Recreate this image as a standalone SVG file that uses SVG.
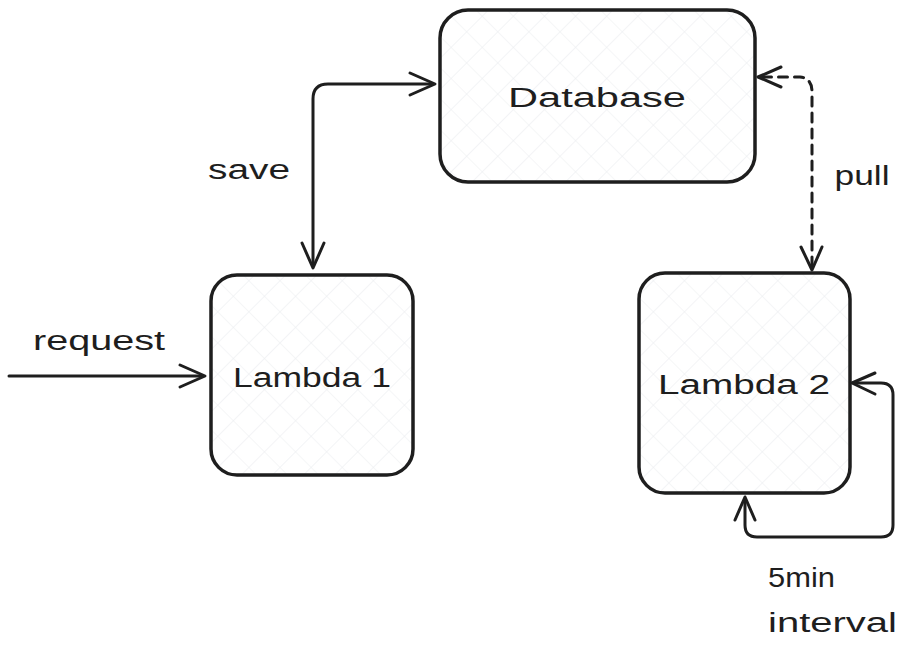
<svg xmlns="http://www.w3.org/2000/svg" width="908" height="655" viewBox="0 0 908 655">
  <style>
    .box { fill: url(#hatch); stroke: #1e1e1e; stroke-width: 3.5; }
    .conn { fill: none; stroke: #1e1e1e; stroke-width: 3; stroke-linecap: round; stroke-linejoin: round; }
    .dash { stroke-dasharray: 9 7; }
    .head { fill: none; stroke: #1e1e1e; stroke-width: 3; stroke-linecap: round; stroke-linejoin: round; }
    .t { font-family: "Liberation Sans", "DejaVu Sans", sans-serif; font-size: 27px; fill: #1e1e1e; }
  </style>
  <defs>
    <pattern id="hatch" width="22" height="22" patternUnits="userSpaceOnUse" patternTransform="rotate(45)">
      <rect width="22" height="22" fill="#ffffff"/>
      <path d="M0 0 V22 M0 0 H22" stroke="#eceef0" stroke-width="1.2"/>
    </pattern>
  </defs>
  <rect width="908" height="655" fill="#ffffff"/>

  <g id="database">
    <rect class="box" x="440" y="10" width="315" height="172" rx="28"/>
    <text class="t" x="597" y="107" text-anchor="middle" textLength="178" lengthAdjust="spacingAndGlyphs">Database</text>
  </g>
  <g id="lambda1">
    <rect class="box" x="211" y="275" width="202" height="200" rx="26"/>
    <text class="t" x="312" y="387" text-anchor="middle" textLength="158" lengthAdjust="spacingAndGlyphs">Lambda 1</text>
  </g>
  <g id="lambda2">
    <rect class="box" x="639" y="273" width="211" height="220" rx="26"/>
    <text class="t" x="744" y="394" text-anchor="middle" textLength="172" lengthAdjust="spacingAndGlyphs">Lambda 2</text>
  </g>

  <g id="connectors">
    <!-- save -->
    <path class="conn" d="M313 266 V99 Q313 84 328 84 H433"/>
    <path class="head" d="M302 243 L313 268 L324 243"/>
    <path class="head" d="M410 73 L435 84 L410 95"/>
    <!-- pull -->
    <path class="conn dash" d="M812 266 V92 Q812 78 800 77 H762"/>
    <path class="head" d="M801 247 L812 270 L822 247"/>
    <path class="head" d="M781 67 L758 77 L781 87"/>
    <!-- request -->
    <path class="conn" d="M9 376 H203"/>
    <path class="head" d="M180 365 L205 376 L180 387"/>
    <!-- loop -->
    <path class="conn" d="M854 383 H881 Q893 383 893 395 V525 Q893 537 881 537 H757 Q745 537 745 525 V499"/>
    <path class="head" d="M875 373 L852 383 L875 394"/>
    <path class="head" d="M735 520 L745 497 L755 520"/>
  </g>

  <g id="labels">
    <text class="t" x="249" y="179" text-anchor="middle" textLength="82" lengthAdjust="spacingAndGlyphs">save</text>
    <text class="t" x="862" y="185" text-anchor="middle" textLength="55" lengthAdjust="spacingAndGlyphs">pull</text>
    <text class="t" x="99" y="350" text-anchor="middle" textLength="132" lengthAdjust="spacingAndGlyphs">request</text>
    <text class="t" x="768" y="587" textLength="67" lengthAdjust="spacingAndGlyphs">5min</text>
    <text class="t" x="768" y="632" textLength="129" lengthAdjust="spacingAndGlyphs">interval</text>
  </g>
</svg>
